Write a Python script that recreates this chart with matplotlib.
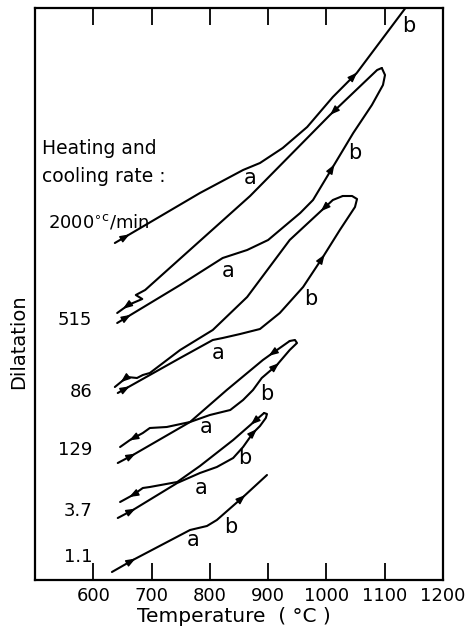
import numpy as np
import matplotlib
matplotlib.use('Agg')
import matplotlib.pyplot as plt

plt.rcParams['font.family'] = ['DejaVu Sans']
plt.rcParams['mathtext.fontset'] = 'dejavusans'

# ---------------- data (temperature in degC, dilatation in arbitrary units) ----------
# 2000 degC/min (heating only visible)
r2000_heat_T = [637, 783, 857, 886, 925, 967, 1011, 1052, 1142]
r2000_heat_D = [337, 387, 410, 417, 432, 453, 483, 507, 577]

# 515 degC/min
r515_heat_T = [641, 749, 822, 864, 900, 955, 977, 1011, 1046, 1078, 1097, 1100.5, 1095]
r515_heat_D = [257, 295, 322, 330, 340, 367, 380, 413, 447, 475, 495, 505, 512]
r515_cool_T = [1095, 1087, 1006, 869, 689, 673, 684, 660, 641]
r515_cool_D = [512, 510, 465, 384, 290, 285, 281, 275, 267]

# 86 degC/min
r86_heat_T = [642, 697, 749, 805, 822, 852, 886, 920, 960, 994, 1023, 1049, 1052.5, 1044, 1028]
r86_heat_D = [187, 205, 222, 240, 242, 246, 251, 267, 293, 323, 350, 373, 381, 384, 384]
r86_cool_T = [1028, 1011, 937, 864, 805, 749, 697, 685, 675, 658, 637]
r86_cool_D = [384, 380, 340, 283, 250, 230, 207, 205, 202, 203, 193]

# 129 degC/min
r129_heat_T = [642, 668, 766, 800, 835, 857, 874, 889, 915, 937, 949.5, 946, 937]
r129_heat_D = [117, 125, 158, 165, 170, 180, 190, 202, 215, 230, 237, 240, 239]
r129_cool_T = [937, 903, 891, 829, 766, 726, 697, 685, 663, 646]
r129_cool_D = [239, 225, 220, 190, 158, 153, 152, 147, 140, 133]

# 3.7 degC/min
r37_heat_T = [642, 668, 744, 783, 812, 840, 857, 874, 886, 896, 898, 893]
r37_heat_D = [62, 70, 97, 107, 113, 122, 133, 147, 154, 162, 166, 167]
r37_cool_T = [893, 840, 783, 744, 697, 685, 668, 646]
r37_cool_D = [167, 140, 114, 98, 93, 92, 85, 78]

# 1.1 degC/min (heating only)
r11_heat_T = [632, 668, 766, 795, 812, 857, 898]
r11_heat_D = [8, 20, 50, 54, 60, 83, 105]

rate_labels = ['515', '86', '129', '3.7', '1.1']
rate_label_D = [260, 188, 130, 69, 23]

x_ticks = [600, 700, 800, 900, 1000, 1100, 1200]

# point labels a / b : (text, T, D)
ab_labels = [('a', 869, 402), ('b', 1142, 554),
             ('a', 831, 309), ('b', 1049, 427),
             ('a', 814, 227), ('b', 973, 281),
             ('a', 793, 153), ('b', 898, 186),
             ('a', 785, 92), ('b', 860, 122),
             ('a', 771, 40), ('b', 835, 53)]

# arrows: (branch T, branch D, temperature where arrow sits)
branches = [
    (r2000_heat_T, r2000_heat_D, [658, 1049]),
    (r515_heat_T, r515_heat_D, [660, 1011]),
    (r515_cool_T, r515_cool_D, [1010, 655]),
    (r86_heat_T, r86_heat_D, [658, 994]),
    (r86_cool_T, r86_cool_D, [994, 651]),
    (r129_heat_T, r129_heat_D, [668, 915]),
    (r129_cool_T, r129_cool_D, [905, 666]),
    (r37_heat_T, r37_heat_D, [668, 877]),
    (r37_cool_T, r37_cool_D, [874, 666]),
    (r11_heat_T, r11_heat_D, [668, 857]),
]

# ---------------- figure ----------------
W, H = 467, 632
fig = plt.figure(figsize=(W / 100, H / 100), dpi=100)
ax = fig.add_axes([35 / W, 1 - 580 / H, 408 / W, 572 / H])
ax.set_xlim(500, 1200)
ax.set_ylim(0, 572)
SX = 700 / 408.0  # degC per pixel
SY = 1.0

for T, D, _ in branches:
    ax.plot(T, D, color='k', lw=1.5, solid_joinstyle='round', solid_capstyle='round')


def add_arrow(T, D, t):
    T = np.asarray(T, float)
    D = np.asarray(D, float)
    for i in range(len(T) - 1):
        a, b = T[i], T[i + 1]
        if a != b and min(a, b) <= t <= max(a, b):
            f = (t - a) / (b - a)
            x = a + f * (b - a)
            y = D[i] + f * (D[i + 1] - D[i])
            dx = (b - a) / SX
            dy = (D[i + 1] - D[i]) / SY
            n = np.hypot(dx, dy)
            ux, uy = dx / n, dy / n
            ax.annotate('', xy=(x + 3 * ux * SX, y + 3 * uy * SY),
                        xytext=(x - 3 * ux * SX, y - 3 * uy * SY),
                        arrowprops=dict(arrowstyle='-|>,head_length=0.8,head_width=0.3',
                                        color='k', lw=1.0, shrinkA=0, shrinkB=0,
                                        mutation_scale=7))
            return


for T, D, ts in branches:
    for t in ts:
        add_arrow(T, D, t)

for txt, t, d in ab_labels:
    ax.text(t, d, txt, fontsize=15, ha='center', va='center')

# rate labels
for lab, d in zip(rate_labels, rate_label_D):
    ax.text(598, d, lab, fontsize=13, ha='right', va='center')

ax.text(512, 432, 'Heating and', fontsize=13.5, ha='left', va='center')
ax.text(512, 403, 'cooling rate :', fontsize=13.5, ha='left', va='center')
ax.text(522, 358, r'2000$^{\circ\mathregular{c}}$/min', fontsize=13, ha='left', va='center')

# axes styling
ax.set_xticks(x_ticks)
ax.set_xticklabels([str(v) for v in x_ticks])
ax.set_yticks([])
ax.tick_params(axis='x', direction='in', length=12, width=1.3, top=True,
               labeltop=False, labelsize=13, pad=5, colors='k')
for sp in ax.spines.values():
    sp.set_linewidth(1.6)

ax.set_xlabel('Temperature  ( °C )', fontsize=14.5, va='center')
ax.xaxis.set_label_coords((234 - 35) / 408, (580 - 617) / 572)
ax.set_ylabel('Dilatation', fontsize=14, va='center')
ax.yaxis.set_label_coords((19 - 35) / 408, (580 - 342) / 572)

fig.savefig('out.png', dpi=100)
